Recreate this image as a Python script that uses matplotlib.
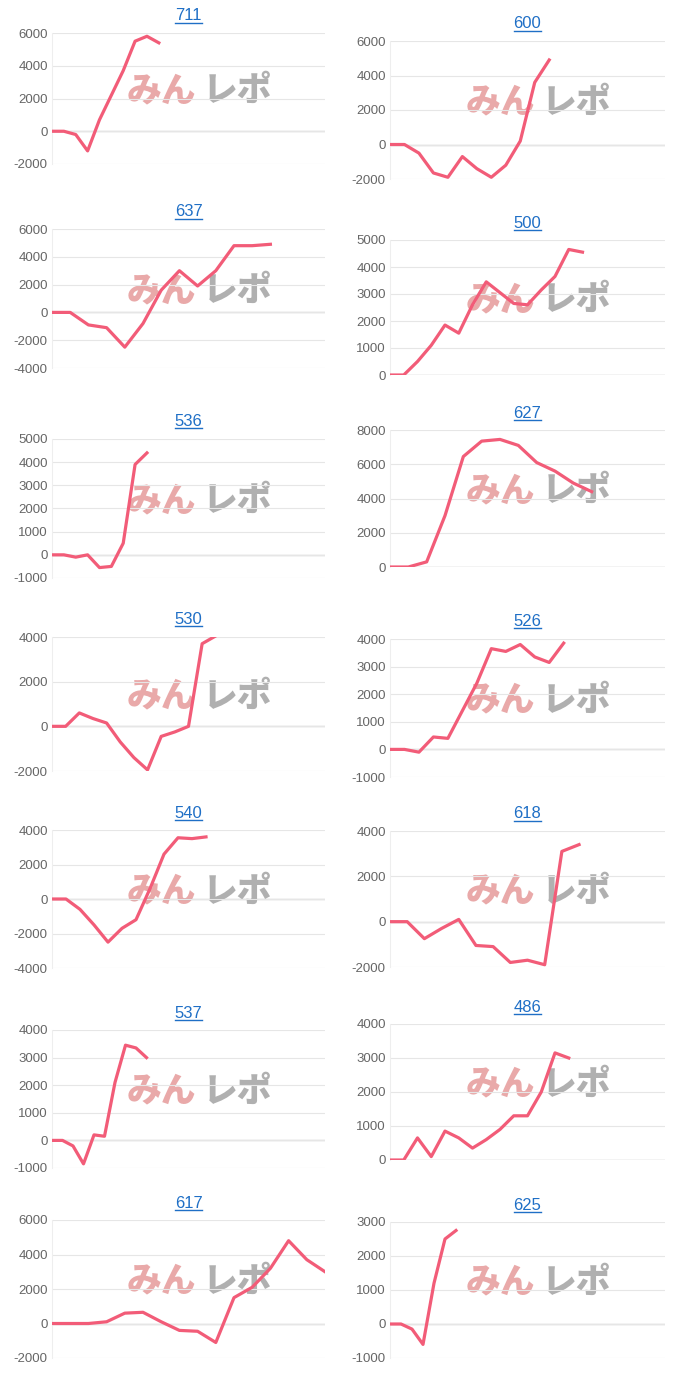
import matplotlib.pyplot as plt
from matplotlib.lines import Line2D
import matplotlib.transforms as mtrans

plt.rcParams['font.family'] = ['Liberation Sans', 'Noto Sans CJK JP']
plt.rcParams['axes.unicode_minus'] = False

titles = ['711', '600', '637', '500', '536', '627', '530', '526', '540', '618', '537', '486', '617', '625']
series = [
    [0, 0, -200, -1200, 700, 2200, 3700, 5500, 5800, 5400],
    [0, 0, -500, -1650, -1900, -700, -1400, -1900, -1200, 200, 3600, 4900],
    [0, 0, -900, -1100, -2500, -800, 1600, 3000, 1900, 3000, 4800, 4800, 4900],
    [0, 0, 500, 1100, 1850, 1550, 2600, 3450, 3050, 2650, 2600, 3150, 3650, 4650, 4550],
    [0, 0, -100, 0, -550, -500, 500, 3900, 4400],
    [0, 0, 300, 3000, 6450, 7350, 7450, 7100, 6100, 5600, 4900, 4400],
    [0, 0, 600, 350, 150, -700, -1400, -1950, -450, -250, 0, 3700, 4050],
    [0, 0, -100, 450, 400, 1400, 2400, 3650, 3550, 3800, 3350, 3150, 3850],
    [0, 0, -600, -1500, -2500, -1700, -1200, 600, 2600, 3550, 3500, 3600],
    [0, 0, -750, -300, 100, -1050, -1100, -1800, -1700, -1900, 3100, 3400],
    [0, 0, -200, -850, 200, 150, 2100, 3450, 3350, 3000],
    [0, 0, 650, 100, 850, 650, 350, 600, 900, 1300, 1300, 2000, 3150, 3000],
    [0, 0, 0, 100, 600, 650, 100, -400, -450, -1100, 1500, 2100, 3200, 4800, 3700, 3000],
    [0, 0, -150, -600, 1200, 2500, 2750],
]
# number of x slots across each panel
slots = [23, 19, 15, 20, 23, 15, 20, 19, 19.5, 16, 26, 20, 15, 25]
ylims = [(-2000, 6000), (-2000, 6000), (-4000, 6000), (0, 5000), (-1000, 5000), (0, 8000),
         (-2000, 4000), (-1000, 4000), (-4000, 4000), (-2000, 4000), (-1000, 4000), (0, 4000),
         (-2000, 6000), (-1000, 3000)]
ysteps = [2000, 2000, 2000, 1000, 1000, 2000, 2000, 1000, 2000, 2000, 1000, 1000, 2000, 1000]
# panel top/bottom in pixels
boxes = [(33, 164), (41, 179), (229, 368), (240, 375), (439, 578), (430, 567), (637, 771),
         (639, 777), (830, 968), (831, 967), (1030, 1168), (1024, 1160), (1220, 1358), (1222, 1358)]

W, H = 680, 1385
fig = plt.figure(figsize=(W / 100, H / 100), dpi=100)
skew = mtrans.Affine2D().skew_deg(-15, 0)
for i, name in enumerate(titles):
    top, bot = boxes[i]
    x0, x1 = (52, 325) if i % 2 == 0 else (390, 665)
    ax = fig.add_axes([x0 / W, 1 - bot / H, (x1 - x0) / W, (bot - top) / H])
    lo, hi = ylims[i]
    ax.set_ylim(lo, hi)
    ax.set_xlim(0, slots[i])
    ax.set_yticks(range(lo, hi + 1, ysteps[i]))
    ax.set_xticks([])
    ax.grid(axis='y', color='#e6e6e6', lw=0.8)
    ax.axhline(0, color='#a8a8a8', lw=0.9, zorder=1)
    for s in ['top', 'right', 'bottom']:
        ax.spines[s].set_visible(False)
    ax.spines['left'].set_color('#eeeeee')
    ax.tick_params(axis='y', length=0, labelsize=9.5, labelcolor='#666666', pad=3)
    # watermark
    cy = 1 - ((top + bot) / 2 - 8) / H
    cx = (x0 + 0.54 * (x1 - x0)) / W
    for txt, ha, col, dx in [('みん', 'right', '#e9a9a9', -0.005), ('レポ', 'left', '#b0b0b0', 0.005)]:
        t = fig.text(cx + dx, cy, txt, ha=ha, va='center', fontsize=25, fontweight='black',
                     color=col, family=['Noto Sans CJK JP'], zorder=2)
        t.set_transform(fig.transFigure + mtrans.Affine2D().translate(-cx * W, -cy * H)
                        + skew + mtrans.Affine2D().translate(cx * W, cy * H))
    ax.patch.set_alpha(0)
    ax.set_zorder(3)
    ax.plot(range(len(series[i])), series[i], color='#f25c78', lw=2.3, zorder=3)

title_texts = []
for i, name in enumerate(titles):
    top, bot = boxes[i]
    x0, x1 = (52, 325) if i % 2 == 0 else (390, 665)
    cx = (x0 + x1) / 2 / W
    t = fig.text(cx, 1 - (top - 17) / H, name, ha='center', va='center', fontsize=12, color='#1f6fc6')
    title_texts.append(t)

fig.canvas.draw()
r = fig.canvas.get_renderer()
for t in title_texts:
    bb = t.get_window_extent(r)
    y = (bb.y0 + 1) / H
    fig.add_artist(Line2D([bb.x0 / W, bb.x1 / W], [y, y], color='#1f6fc6', lw=1))

fig.savefig('out.png', dpi=100)
